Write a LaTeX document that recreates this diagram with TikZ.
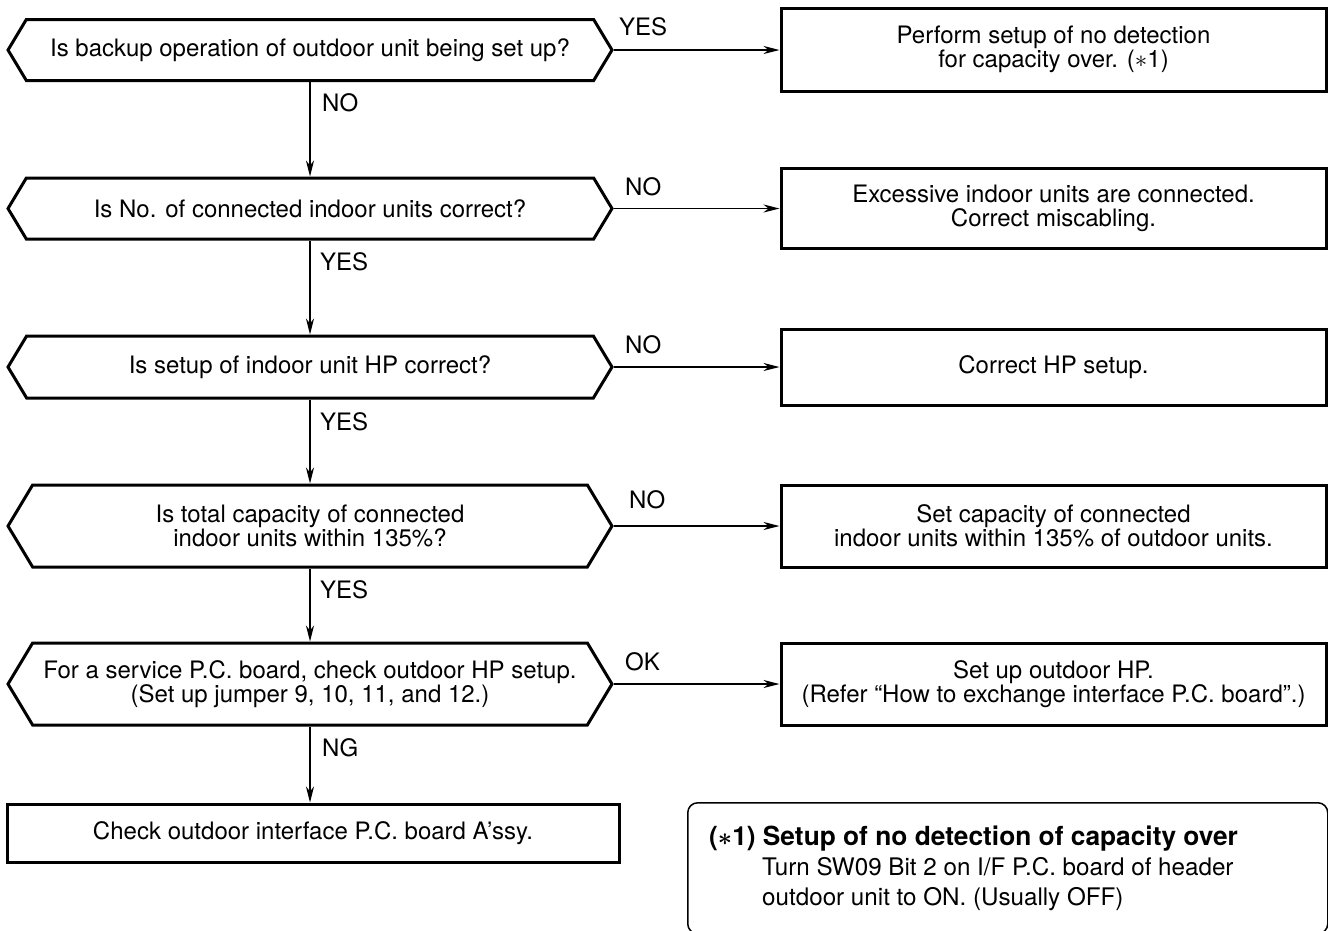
\documentclass[tikz,border=0pt]{standalone}
\usepackage{fontspec}
\setmainfont{TeX Gyre Heros}
\usetikzlibrary{shapes.symbols,arrows.meta}
\begin{document}
\begin{tikzpicture}[x=1pt,y=-1pt,
  txt/.style={font=\fontsize{24}{24.5}\selectfont},
  hexa/.style={signal, signal to=west and east, signal pointer angle=118, draw, line width=3pt, minimum width=604pt, inner sep=0pt, align=center, txt},
  rbox/.style={rectangle, draw, line width=3pt, minimum width=545pt, inner sep=0pt, align=center, txt},
  conn/.style={line width=1.4pt, -{Stealth[length=16pt,width=8pt,inset=5pt]}},
  lbl/.style={anchor=base west, inner sep=0pt, txt},
  notebox/.style={draw, rounded corners=10pt, line width=1.5pt, inner sep=0pt},
  notetxt/.style={anchor=base west, inner sep=0pt, font=\fontsize{24.2}{25}\selectfont}
]
\useasboundingbox (0,0) rectangle (1328,930);

\node[hexa, minimum height=61pt] (q1) at (310,50) {Is backup operation of outdoor unit being set up?};
\node[hexa, minimum height=61pt] (q2) at (310,208.5) {Is No. of connected indoor units correct?};
\node[hexa, minimum height=62pt] (q3) at (310,367) {Is setup of indoor unit HP correct?};
\node[hexa, minimum height=82pt] (q4) at (310,526) {Is total capacity of connected\\indoor units within 135\%?};
\node[hexa, minimum height=82pt] (q5) at (310,684) {For a service P.C. board, check outdoor HP setup.\\(Set up jumper 9, 10, 11, and 12.)};

\node[rbox, minimum height=83pt] (b1) at (1053.5,49.5) {Perform setup of no detection\\for capacity over. ($\ast$1)};
\node[rbox, minimum height=80pt] (b2) at (1053.5,208.5) {Excessive indoor units are connected.\\Correct miscabling.};
\node[rbox, minimum height=76pt] (b3) at (1053.5,367) {Correct HP setup.};
\node[rbox, minimum height=82pt] (b4) at (1053.5,526) {Set capacity of connected\\indoor units within 135\% of outdoor units.};
\node[rbox, minimum height=82pt] (b5) at (1053.5,684) {Set up outdoor HP.\\(Refer “How to exchange interface P.C. board”.)};
\node[rbox, minimum width=612pt, minimum height=58pt] (b6) at (313,833) {Check outdoor interface P.C. board A’ssy.};

\draw[conn] (q1.east) -- (b1.west |- q1.east);
\draw[conn] (q2.east) -- (b2.west |- q2.east);
\draw[conn] (q3.east) -- (b3.west |- q3.east);
\draw[conn] (q4.east) -- (b4.west |- q4.east);
\draw[conn] (q5.east) -- (b5.west |- q5.east);
\draw[conn] (q1.south) -- (q2.north);
\draw[conn] (q2.south) -- (q3.north);
\draw[conn] (q3.south) -- (q4.north);
\draw[conn] (q4.south) -- (q5.north);
\draw[conn] (q5.south) -- (b6.north -| q5.south);

\node[lbl] (l1) at (619,35) {YES};
\node[lbl] (l2) at (625,195) {NO};
\node[lbl] (l3) at (625,353) {NO};
\node[lbl] (l4) at (629,508) {NO};
\node[lbl] (l5) at (625,670) {OK};
\node[lbl] (d1) at (322,111) {NO};
\node[lbl] (d2) at (320,270) {YES};
\node[lbl] (d3) at (320,430) {YES};
\node[lbl] (d4) at (320,598) {YES};
\node[lbl] (d5) at (322,756) {NG};

\node[notebox, anchor=north west, minimum width=640pt, minimum height=131pt] (note) at (687,802) {};
\node[notetxt, font=\fontsize{26.3}{27}\selectfont\bfseries] (nh) at (709,845) {({\boldmath$\ast$}1) Setup of no detection of capacity over};
\node[notetxt] (nb1) at (762,875) {Turn SW09 Bit 2 on I/F P.C. board of header};
\node[notetxt] (nb2) at (762,905) {outdoor unit to ON. (Usually OFF)};
\end{tikzpicture}
\end{document}
